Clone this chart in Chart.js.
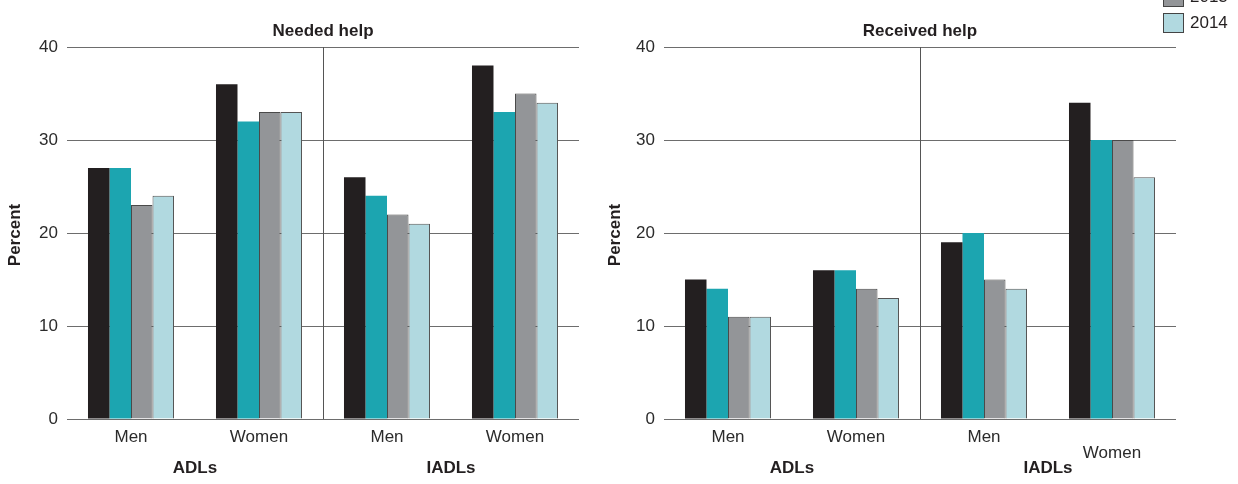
<!DOCTYPE html>
<html>
<head>
<meta charset="utf-8">
<script src="https://cdn.jsdelivr.net/npm/chart.js@4"></script>
<style>
  html, body { margin: 0; padding: 0; background: #ffffff; }
  body { width: 1238px; height: 484px; position: relative; overflow: hidden; font-family: "Liberation Sans", Arial, sans-serif; }
  .wrap { position: absolute; top: 0; height: 484px; }
  #legend { position: absolute; left: 1163px; top: -65px; }
  .li { height: 26px; display: flex; align-items: flex-start; }
  .sw { width: 19px; height: 18px; border: 1px solid #444; box-sizing: content-box; }
  .lt { font-size: 17px; color: #231f20; margin-left: 6px; line-height: 19px; }
</style>
</head>
<body>
<div class="wrap" style="left:0;width:600px;"><canvas id="c1"></canvas></div>
<div class="wrap" style="left:600px;width:638px;"><canvas id="c2"></canvas></div>
<div id="legend"></div>
<script>
// ---- data ----
const categories = ['Men', 'Women', 'Men', 'Women'];
const categoriesRight = ['Men', 'Women', 'Men', ['', 'Women']];
const groups = ['ADLs', 'IADLs'];
const years = ['2011', '2012', '2013', '2014'];
const yTicks = [0, 10, 20, 30, 40];

// Needed help (ADL Men, ADL Women, IADL Men, IADL Women) per year
const needed2011 = [27, 36, 26, 38];
const needed2012 = [27, 32, 24, 33];
const needed2013 = [23, 33, 22, 35];
const needed2014 = [24, 33, 21, 34];

// Received help
const received2011 = [15, 16, 19, 34];
const received2012 = [14, 16, 20, 30];
const received2013 = [11, 14, 15, 30];
const received2014 = [11, 13, 14, 26];

// ---- styles ----
const colors = ['#231f20', '#1ca5b0', '#939598', '#b1d9e0'];
const borders = ['#231f20', '#1ca5b0', '#4a4a4a', '#555555'];
const borderW = [0, 0, 1, 1];
const FONT = '"Liberation Sans", Arial, sans-serif';
const TXT = '#231f20';

function makeDatasets(series) {
  return series.map((d, i) => ({
    label: years[i],
    data: d,
    backgroundColor: colors[i],
    borderColor: borders[i],
    borderWidth: borderW[i],
    borderSkipped: 'bottom',
    categoryPercentage: 0.672,
    barPercentage: 1.0
  }));
}

function overlay(title) {
  return {
    id: 'overlay',
    beforeDatasetsDraw(chart) {
      const ctx = chart.ctx, a = chart.chartArea, xs = chart.scales.x;
      const sx = Math.round((xs.getPixelForValue(1) + xs.getPixelForValue(2)) / 2) + 0.5;
      ctx.save();
      ctx.strokeStyle = '#555';
      ctx.lineWidth = 1;
      ctx.beginPath();
      ctx.moveTo(sx, a.top);
      ctx.lineTo(sx, a.bottom);
      ctx.stroke();
      ctx.restore();
    },
    afterDraw(chart) {
      const ctx = chart.ctx, a = chart.chartArea, xs = chart.scales.x;
      ctx.save();
      ctx.fillStyle = TXT;
      ctx.textAlign = 'center';
      ctx.textBaseline = 'middle';
      ctx.font = 'bold 17px ' + FONT;
      ctx.fillText(title, (a.left + a.right) / 2, 31);
      const g1 = (xs.getPixelForValue(0) + xs.getPixelForValue(1)) / 2;
      const g2 = (xs.getPixelForValue(2) + xs.getPixelForValue(3)) / 2;
      ctx.fillText(groups[0], g1, 468);
      ctx.fillText(groups[1], g2, 468);
      ctx.translate(15, 235);
      ctx.rotate(-Math.PI / 2);
      ctx.fillText('Percent', 0, 0);
      ctx.restore();
    }
  };
}

function makeChart(id, labels, series, title, yWidth, padRight) {
  return new Chart(document.getElementById(id), {
    type: 'bar',
    data: { labels: labels, datasets: makeDatasets(series) },
    options: {
      responsive: true,
      maintainAspectRatio: false,
      animation: false,
      layout: { padding: { top: 47, right: padRight, bottom: 0, left: 0 } },
      plugins: { legend: { display: false }, tooltip: { enabled: false }, title: { display: false } },
      scales: {
        x: {
          grid: { display: false },
          border: { display: false },
          ticks: { color: '#2b2b2b', font: { family: FONT, size: 17, lineHeight: 0.95 }, padding: 2, maxRotation: 0, autoSkip: false },
          afterFit(s) { s.height = 65; }
        },
        y: {
          min: 0, max: 40,
          afterBuildTicks(s) { s.ticks = yTicks.map(v => ({ value: v })); },
          grid: { color: '#6d6d6d', lineWidth: 1, drawTicks: false },
          border: { display: false },
          ticks: { color: '#2b2b2b', font: { family: FONT, size: 17 }, padding: 9 },
          afterFit(s) { s.width = yWidth; }
        }
      }
    },
    plugins: [overlay(title)]
  });
}

makeChart('c1', categories, [needed2011, needed2012, needed2013, needed2014], 'Needed help', 67, 21);
makeChart('c2', categoriesRight, [received2011, received2012, received2013, received2014], 'Received help', 64, 62);

// legend
const lg = document.getElementById('legend');
years.forEach((y, i) => {
  const row = document.createElement('div');
  row.className = 'li';
  row.innerHTML = '<div class="sw" style="background:' + colors[i] + '"></div><div class="lt">' + y + '</div>';
  lg.appendChild(row);
});
</script>
</body>
</html>
